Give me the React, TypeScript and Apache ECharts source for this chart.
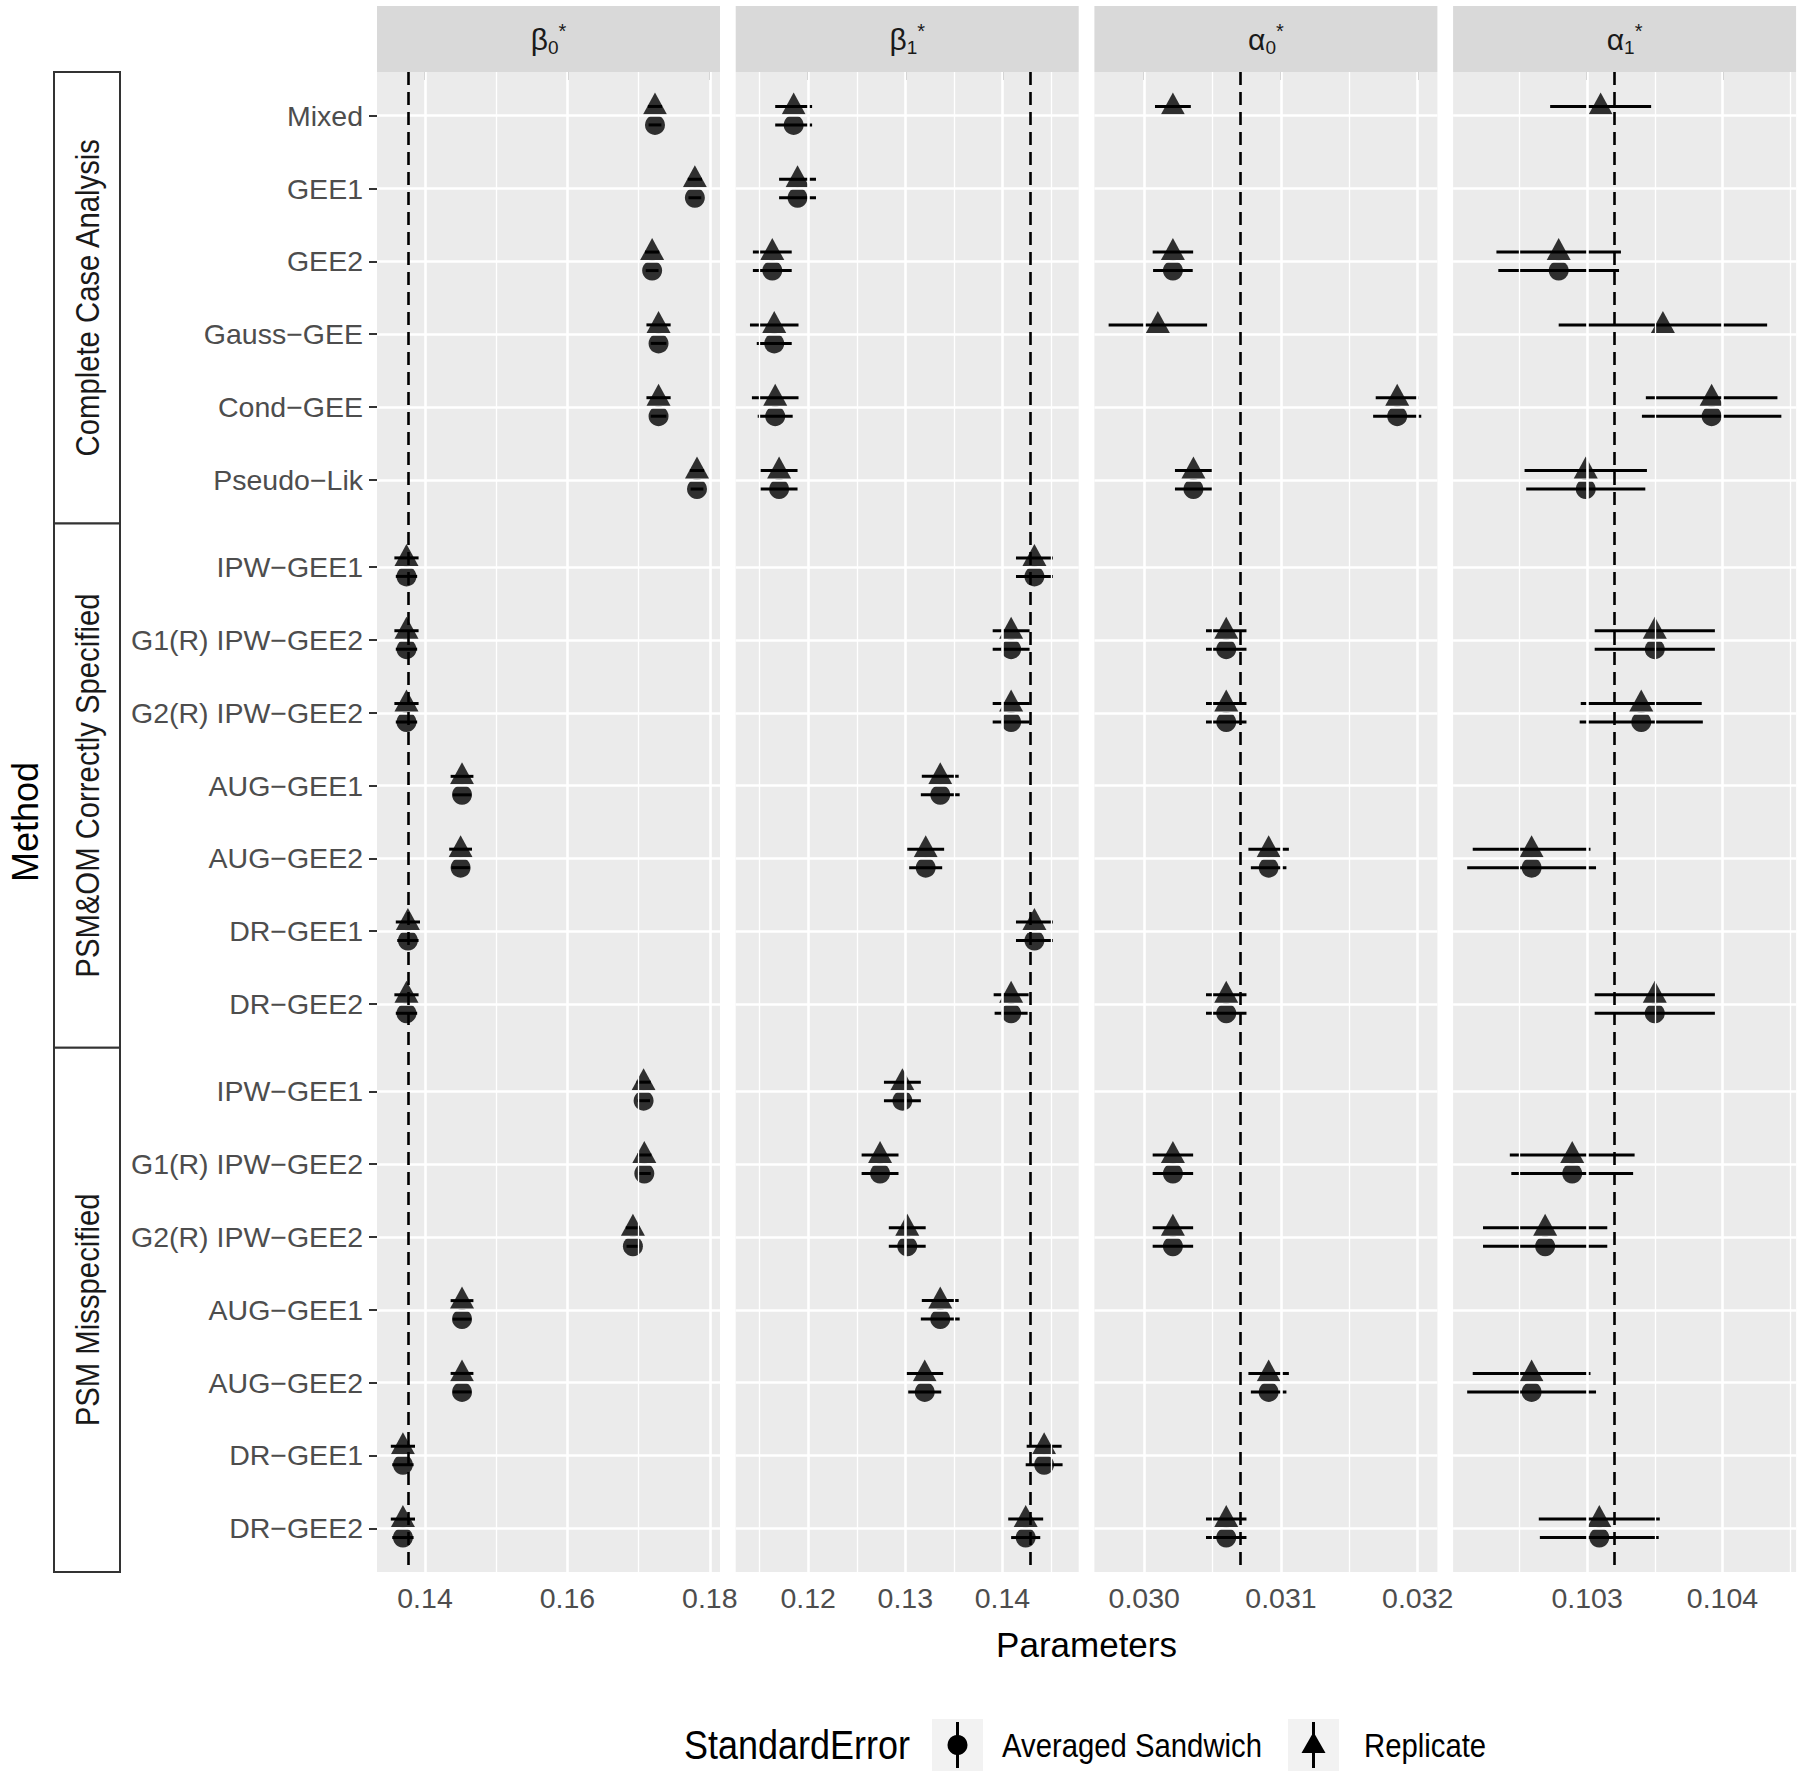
import React, { useEffect, useRef } from "react";
import * as echarts from "echarts";

// ---------------- data ----------------
const groupNames = ["Complete Case Analysis", "PSM&OM Correctly Specified", "PSM Misspecified"];
const groupMethods = [
  ["Mixed", "GEE1", "GEE2", "Gauss−GEE", "Cond−GEE", "Pseudo−Lik"],
  ["IPW−GEE1", "G1(R) IPW−GEE2", "G2(R) IPW−GEE2", "AUG−GEE1", "AUG−GEE2", "DR−GEE1", "DR−GEE2"],
  ["IPW−GEE1", "G1(R) IPW−GEE2", "G2(R) IPW−GEE2", "AUG−GEE1", "AUG−GEE2", "DR−GEE1", "DR−GEE2"],
];
const paramSymbols = ["β", "β", "α", "α"];
const paramSubs = ["0", "1", "0", "1"];
const trueValues = [0.1376, 0.1429, 0.0307, 0.1032];
const seTypes = ["Averaged Sandwich", "Replicate"];

// estimates (same for both SE types); half-widths of the intervals (null = not shown)
const beta0Est = [0.1723, 0.1779, 0.1719, 0.1728, 0.1728, 0.1782, 0.1374, 0.1374, 0.1374, 0.1452, 0.1450, 0.1376, 0.1374, 0.1707, 0.1708, 0.1692, 0.1452, 0.1452, 0.1369, 0.1369];
const beta0HalfRep = [0.0010, 0.0010, 0.0010, 0.0017, 0.0017, 0.0010, 0.0017, 0.0017, 0.0017, 0.0016, 0.0016, 0.0017, 0.0017, 0.0010, 0.0010, 0.0010, 0.0016, 0.0016, 0.0017, 0.0017];
const beta0HalfSand = [0.0009, 0.0009, 0.0009, 0.0011, 0.0011, 0.0009, 0.0015, 0.0015, 0.0015, 0.0013, 0.0013, 0.0015, 0.0015, 0.0009, 0.0009, 0.0009, 0.0013, 0.0013, 0.0015, 0.0015];

const beta1Est = [0.1185, 0.1189, 0.1163, 0.1165, 0.1166, 0.1170, 0.1433, 0.1409, 0.1409, 0.1336, 0.1321, 0.1433, 0.1409, 0.1297, 0.1274, 0.1302, 0.1336, 0.1320, 0.1443, 0.1424];
const beta1HalfRep = [0.0019, 0.0019, 0.0020, 0.0025, 0.0024, 0.0019, 0.0019, 0.0019, 0.0019, 0.0019, 0.0019, 0.0019, 0.0018, 0.0019, 0.0019, 0.0019, 0.0019, 0.0019, 0.0018, 0.0018];
const beta1HalfSand = [0.0019, 0.0019, 0.0020, 0.0018, 0.0018, 0.0019, 0.0019, 0.0019, 0.0019, 0.0020, 0.0017, 0.0019, 0.0017, 0.0019, 0.0019, 0.0019, 0.0020, 0.0017, 0.0019, 0.0015];

const alpha0Est = [0.03021, null, 0.03021, 0.03010, 0.03185, 0.03036, null, 0.03060, 0.03060, null, 0.03091, null, 0.03060, null, 0.03021, 0.03021, null, 0.03091, null, 0.03060];
const alpha0HalfRep = [0.000131, null, 0.000148, 0.00036, 0.000157, 0.000135, null, 0.000148, 0.000148, null, 0.000148, null, 0.000148, null, 0.000148, 0.000148, null, 0.000148, null, 0.000148];
const alpha0HalfSand = [null, null, 0.000145, null, 0.000176, 0.000135, null, 0.000148, 0.000148, null, 0.00013, null, 0.000148, null, 0.000148, 0.000148, null, 0.00013, null, 0.000148];

const alpha1Est = [0.10310, null, 0.10279, 0.10356, 0.10392, 0.10299, null, 0.10350, 0.10340, null, 0.10259, null, 0.10350, null, 0.10289, 0.10269, null, 0.10259, null, 0.10309];
const alpha1HalfRep = [0.000373, null, 0.00046, 0.00077, 0.000486, 0.000452, null, 0.000444, 0.000447, null, 0.000435, null, 0.000444, null, 0.000461, 0.000459, null, 0.000435, null, 0.000447];
const alpha1HalfSand = [null, null, 0.000446, null, 0.000515, 0.00044, null, 0.000444, 0.000455, null, 0.000476, null, 0.000444, null, 0.00045, 0.000459, null, 0.000476, null, 0.000439];

// axes
const beta0Range = [0.13326, 0.18143];
const beta1Range = [0.11253, 0.14786];
const alpha0Range = [0.029636, 0.032144];
const alpha1Range = [0.10201, 0.104544];
const beta0Ticks = [0.14, 0.16, 0.18];
const beta1Ticks = [0.12, 0.13, 0.14];
const alpha0Ticks = [0.03, 0.031, 0.032];
const alpha1Ticks = [0.103, 0.104];
const beta0TickLabels = ["0.14", "0.16", "0.18"];
const beta1TickLabels = ["0.12", "0.13", "0.14"];
const alpha0TickLabels = ["0.030", "0.031", "0.032"];
const alpha1TickLabels = ["0.103", "0.104"];
const beta0Minor = [0.15, 0.17];
const beta1Minor = [0.115, 0.125, 0.135, 0.145];
const alpha0Minor = [0.0305, 0.0315];
const alpha1Minor = [0.1025, 0.1035, 0.1045];

// ---------------- layout ----------------
const FONT = "'Liberation Sans', Arial, Helvetica, sans-serif";
const GRID_LEFT = 377;
const PANEL_W = 343;
const PANEL_GAP = 15.7;
const GRID_TOP = 72;
const GRID_H = 1500;
const EXPAND = 0.6;
const DODGE = 0.127;

const panels = [
  { est: beta0Est, rep: beta0HalfRep, sand: beta0HalfSand, range: beta0Range, ticks: beta0Ticks, labels: beta0TickLabels, minor: beta0Minor },
  { est: beta1Est, rep: beta1HalfRep, sand: beta1HalfSand, range: beta1Range, ticks: beta1Ticks, labels: beta1TickLabels, minor: beta1Minor },
  { est: alpha0Est, rep: alpha0HalfRep, sand: alpha0HalfSand, range: alpha0Range, ticks: alpha0Ticks, labels: alpha0TickLabels, minor: alpha0Minor },
  { est: alpha1Est, rep: alpha1HalfRep, sand: alpha1HalfSand, range: alpha1Range, ticks: alpha1Ticks, labels: alpha1TickLabels, minor: alpha1Minor },
];

// discrete row positions with group gaps (like facet_grid free space)
const rowPos: number[] = [];
const rowNames: string[] = [];
const groupBounds: number[] = [0];
{
  let y = 0;
  groupMethods.forEach((ms) => {
    y += EXPAND;
    ms.forEach((m, k) => {
      rowPos.push(y);
      rowNames.push(m);
      if (k < ms.length - 1) y += 1;
    });
    y += EXPAND;
    groupBounds.push(y);
  });
}
const TOTAL = groupBounds[groupBounds.length - 1];
const yPix = (v: number) => GRID_TOP + (v / TOTAL) * GRID_H;

function buildOption() {
  const grid: any[] = [];
  const xAxis: any[] = [];
  const yAxis: any[] = [];
  const series: any[] = [];

  panels.forEach((p, i) => {
    const left = GRID_LEFT + i * (PANEL_W + PANEL_GAP);
    grid.push({ left, top: GRID_TOP, width: PANEL_W, height: GRID_H, show: true, backgroundColor: "#EBEBEB", borderWidth: 0 });
    xAxis.push({
      type: "value",
      gridIndex: i,
      min: p.range[0],
      max: p.range[1],
      axisLine: { show: false },
      splitLine: { show: false },
      axisTick: { show: true, length: 8, lineStyle: { color: "#333333", width: 2 }, customValues: p.ticks },
      axisLabel: {
        customValues: p.ticks,
        formatter: (v: number) => {
          const k = p.ticks.findIndex((t) => Math.abs(t - v) < 1e-9);
          return k >= 0 ? p.labels[k] : "";
        },
        color: "#4D4D4D",
        fontSize: 28.5,
        fontFamily: FONT,
        margin: 11,
      },
    });
    yAxis.push({
      type: "value",
      gridIndex: i,
      min: 0,
      max: TOTAL,
      inverse: true,
      axisLine: { show: false },
      splitLine: { show: false },
      axisTick: { show: i === 0, length: 8, lineStyle: { color: "#333333", width: 2 }, customValues: rowPos },
      axisLabel: {
        show: i === 0,
        customValues: rowPos,
        formatter: (v: number) => {
          const k = rowPos.findIndex((t) => Math.abs(t - v) < 1e-6);
          return k >= 0 ? rowNames[k] : "";
        },
        color: "#4D4D4D",
        fontSize: 28.5,
        fontFamily: FONT,
        margin: 14,
      },
    });

    const gridLines: any[] = [];
    p.minor.forEach((v) => gridLines.push({ xAxis: v, lineStyle: { color: "#FFFFFF", width: 1.3, type: "solid" } }));
    p.ticks.forEach((v) => gridLines.push({ xAxis: v, lineStyle: { color: "#FFFFFF", width: 2.6, type: "solid" } }));
    rowPos.forEach((v) => gridLines.push({ yAxis: v, lineStyle: { color: "#FFFFFF", width: 2.6, type: "solid" } }));

    series.push({
      type: "scatter",
      xAxisIndex: i,
      yAxisIndex: i,
      data: [],
      z: 1,
      silent: true,
      markLine: { silent: true, precision: 12, symbol: ["none", "none"], label: { show: false }, animation: false, data: gridLines },
    });
    series.push({
      type: "scatter",
      xAxisIndex: i,
      yAxisIndex: i,
      data: [],
      z: 2,
      silent: true,
      markLine: {
        silent: true,
        precision: 12,
        symbol: ["none", "none"],
        label: { show: false },
        animation: false,
        data: [{ xAxis: trueValues[i] }],
        lineStyle: { color: "#000000", width: 2.6, type: [13, 7] },
      },
    });

    const bars: any[] = [];
    const repPts: any[] = [];
    const sandPts: any[] = [];
    p.est.forEach((e, r) => {
      if (e == null) return;
      const hr = p.rep[r];
      const hs = p.sand[r];
      if (hr != null) {
        bars.push([e - hr, e + hr, rowPos[r] - DODGE]);
        repPts.push([e, rowPos[r] - DODGE]);
      }
      if (hs != null) {
        bars.push([e - hs, e + hs, rowPos[r] + DODGE]);
        sandPts.push([e, rowPos[r] + DODGE]);
      }
    });

    series.push({
      type: "custom",
      xAxisIndex: i,
      yAxisIndex: i,
      z: 3,
      silent: true,
      encode: { x: [0, 1], y: 2 },
      data: bars,
      renderItem: (params: any, api: any) => {
        const a = api.coord([api.value(0), api.value(2)]);
        const b = api.coord([api.value(1), api.value(2)]);
        return {
          type: "line",
          shape: { x1: a[0], y1: a[1], x2: b[0], y2: b[1] },
          style: { stroke: "#000000", lineWidth: 3 },
        };
      },
    });
    series.push({
      name: seTypes[1],
      type: "scatter",
      xAxisIndex: i,
      yAxisIndex: i,
      z: 4,
      silent: true,
      symbol: "triangle",
      symbolSize: [24, 22],
      symbolOffset: [0, -3],
      itemStyle: { color: "#000000" },
      data: repPts,
    });
    series.push({
      name: seTypes[0],
      type: "scatter",
      xAxisIndex: i,
      yAxisIndex: i,
      z: 4,
      silent: true,
      symbol: "circle",
      symbolSize: 20,
      itemStyle: { color: "#000000" },
      data: sandPts,
    });
  });

  // ---- graphics: strips, group boxes, titles, legend ----
  const graphic: any[] = [];
  panels.forEach((_, i) => {
    const left = GRID_LEFT + i * (PANEL_W + PANEL_GAP);
    graphic.push({ type: "rect", shape: { x: left, y: 6, width: PANEL_W, height: GRID_TOP - 6 }, style: { fill: "#D9D9D9" }, silent: true });
    graphic.push({
      type: "text",
      x: left + PANEL_W / 2,
      y: 39,
      silent: true,
      style: {
        text: `{b|${paramSymbols[i]}}{s|${paramSubs[i]}}{p|*}`,
        align: "center",
        verticalAlign: "middle",
        fill: "#1A1A1A",
        fontFamily: FONT,
        rich: {
          b: { fontSize: 30, lineHeight: 36, fontFamily: FONT, fill: "#1A1A1A" },
          s: { fontSize: 19, lineHeight: 18, verticalAlign: "bottom", fontFamily: FONT, fill: "#1A1A1A" },
          p: { fontSize: 20, lineHeight: 20, verticalAlign: "top", fontFamily: FONT, fill: "#1A1A1A" },
        },
      },
    });
  });

  groupNames.forEach((g, k) => {
    const y0 = yPix(groupBounds[k]);
    const y1 = yPix(groupBounds[k + 1]);
    graphic.push({ type: "rect", shape: { x: 54, y: y0, width: 66, height: y1 - y0 }, style: { fill: "#FFFFFF", stroke: "#333333", lineWidth: 2 }, silent: true });
    graphic.push({
      type: "text",
      x: 87,
      y: (y0 + y1) / 2,
      rotation: Math.PI / 2,
      scaleY: 1.15,
      silent: true,
      style: { text: g, align: "center", verticalAlign: "middle", fontSize: 29.3, fontFamily: FONT, fill: "#1A1A1A" },
    });
  });

  graphic.push({
    type: "text",
    x: 25,
    y: GRID_TOP + GRID_H / 2,
    rotation: Math.PI / 2,
    silent: true,
    style: { text: "Method", align: "center", verticalAlign: "middle", fontSize: 36, fontFamily: FONT, fill: "#000000" },
  });
  graphic.push({
    type: "text",
    x: GRID_LEFT + (4 * PANEL_W + 3 * PANEL_GAP) / 2,
    y: 1644,
    silent: true,
    style: { text: "Parameters", align: "center", verticalAlign: "middle", fontSize: 35, fontFamily: FONT, fill: "#000000" },
  });

  // legend
  const LY = 1745;
  graphic.push({ type: "text", x: 684, y: LY, scaleY: 1.15, silent: true, style: { text: "StandardError", align: "left", verticalAlign: "middle", fontSize: 36, fontFamily: FONT, fill: "#000000" } });
  const keys = [
    { x: 932, label: seTypes[0], tx: 1002, shape: "circle" },
    { x: 1288, label: seTypes[1], tx: 1364, shape: "triangle" },
  ];
  keys.forEach((k) => {
    const cx = k.x + 25.5;
    graphic.push({ type: "rect", shape: { x: k.x, y: LY - 26, width: 51, height: 52 }, style: { fill: "#F2F2F2" }, silent: true });
    graphic.push({ type: "line", shape: { x1: cx, y1: LY - 23, x2: cx, y2: LY + 23 }, style: { stroke: "#000000", lineWidth: 3 }, silent: true });
    if (k.shape === "circle") {
      graphic.push({ type: "circle", shape: { cx, cy: LY, r: 10 }, style: { fill: "#000000" }, silent: true });
    } else {
      graphic.push({ type: "polygon", shape: { points: [[cx - 12, LY + 8], [cx + 12, LY + 8], [cx, LY - 13]] }, style: { fill: "#000000" }, silent: true });
    }
    graphic.push({ type: "text", x: k.tx, y: LY, scaleY: 1.15, silent: true, style: { text: k.label, align: "left", verticalAlign: "middle", fontSize: 29.3, fontFamily: FONT, fill: "#000000" } });
  });

  return {
    animation: false,
    backgroundColor: "#FFFFFF",
    textStyle: { fontFamily: FONT },
    grid,
    xAxis,
    yAxis,
    series,
    graphic,
  };
}

export default function App() {
  const ref = useRef<HTMLDivElement>(null);
  useEffect(() => {
    if (!ref.current) return;
    const chart = echarts.init(ref.current, null, { renderer: "svg" });
    chart.setOption(buildOption() as any);
    return () => chart.dispose();
  }, []);
  return (
    <div
      ref={ref}
      style={{ position: "absolute", left: 0, top: 0, width: 1800, height: 1778, background: "#FFFFFF" }}
    />
  );
}
